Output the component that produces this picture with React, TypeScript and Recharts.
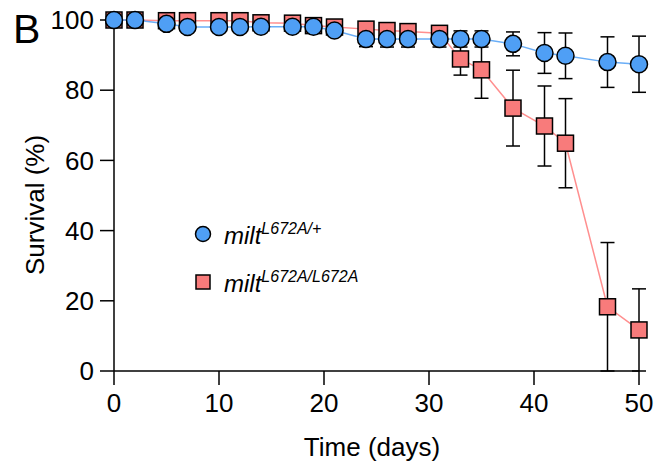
import React from "react"
import {
  ComposedChart,
  Line,
  XAxis,
  YAxis,
  ErrorBar,
  Legend,
  Customized,
} from "recharts"

// ── Data ───────────────────────────────────────────────────
const days = [0, 2, 5, 7, 10, 12, 14, 17, 19, 21, 24, 26, 28, 31, 33, 35, 38, 41, 43, 47, 50]

const hetSurvival = [100, 100, 98.9, 98, 98, 98, 98.1, 98.1, 98.1, 97, 94.6, 94.6, 94.6, 94.6, 94.6, 94.6, 93.2, 90.6, 89.8, 88, 87.4]
const hetError = [0, 0, 0.5, 0.6, 0.6, 0.6, 0.6, 0.6, 0.6, 1, 2.2, 2.3, 2.3, 2.3, 2.3, 2.3, 3.4, 5.8, 6.5, 7.2, 8]

const homSurvival = [100, 100, 99.8, 99.8, 99.8, 99.8, 99.2, 99.1, 98.4, 98, 97.4, 97, 96.7, 96.2, 88.9, 85.8, 74.9, 69.8, 64.9, 18.3, 11.7]
const homError = [0, 0, 0, 0, 0, 0, 0.4, 0.4, 0.6, 0.8, 1.4, 1.5, 1.5, 1.8, 4.6, 8.1, 10.8, 11.4, 12.7, 18.3, 11.7]

const xTicks = [0, 10, 20, 30, 40, 50]
const yTicks = [0, 20, 40, 60, 80, 100]

const tableData = days.map((day, i) => ({
  day,
  het: hetSurvival[i],
  hetErr: hetError[i],
  hom: homSurvival[i],
  homErr: homError[i],
}))

const BLUE_FILL = "#4f9ff5"
const BLUE_LINE = "#6aaef7"
const RED_FILL = "#f87b7b"
const RED_LINE = "#ff8f8f"
const FONT = "'Liberation Sans', Arial, sans-serif"

function CircleDot(props: any) {
  const { cx, cy } = props
  if (cx == null || cy == null) return null
  return <circle cx={cx} cy={cy} r={8.5} fill={BLUE_FILL} stroke="#000" strokeWidth={1.5} />
}

function SquareDot(props: any) {
  const { cx, cy } = props
  if (cx == null || cy == null) return null
  return (
    <rect x={cx - 8} y={cy - 8} width={16} height={16} fill={RED_FILL} stroke="#000" strokeWidth={1.5} />
  )
}

function LegendBox() {
  return (
    <svg width={200} height={90} style={{ overflow: "visible" }}>
      <circle cx={13} cy={19} r={7.5} fill={BLUE_FILL} stroke="#000" strokeWidth={1.5} />
      <text x={34} y={29} fontFamily={FONT} fontSize={24} fontStyle="italic" fill="#000">
        milt
        <tspan dy={-10} fontSize={16}>L672A/+</tspan>
      </text>
      <rect x={6} y={60} width={14} height={14} fill={RED_FILL} stroke="#000" strokeWidth={1.5} />
      <text x={34} y={77} fontFamily={FONT} fontSize={24} fontStyle="italic" fill="#000">
        milt
        <tspan dy={-10} fontSize={16}>L672A/L672A</tspan>
      </text>
    </svg>
  )
}

function Labels() {
  return (
    <g fontFamily={FONT} fill="#000">
      <text x={13} y={43} fontSize={41}>B</text>
      <text x={44} y={205} fontSize={26} textAnchor="middle" transform="rotate(-90 44 205)">
        Survival (%)
      </text>
      <text x={372} y={456} fontSize={26} textAnchor="middle">Time (days)</text>
    </g>
  )
}

export default function App() {
  const tick = { fontSize: 26, fill: "#000", fontFamily: FONT }
  return (
    <div style={{ position: "absolute", left: 0, top: 0, background: "#fff" }}>
      <ComposedChart
        width={662}
        height={470}
        data={tableData}
        margin={{ top: 20, right: 23, bottom: 0, left: 0 }}
      >
        <XAxis
          dataKey="day"
          type="number"
          domain={[0, 50]}
          ticks={xTicks}
          height={99}
          tick={tick}
          tickSize={14}
          tickMargin={9}
          axisLine={{ stroke: "#000", strokeWidth: 1.5 }}
          tickLine={{ stroke: "#000", strokeWidth: 1.5 }}
        />
        <YAxis
          type="number"
          domain={[0, 100]}
          ticks={yTicks}
          width={114}
          tick={tick}
          tickSize={14}
          tickMargin={6}
          axisLine={{ stroke: "#000", strokeWidth: 1.5 }}
          tickLine={{ stroke: "#000", strokeWidth: 1.5 }}
        />
        <Line
          dataKey="hom"
          type="linear"
          stroke={RED_LINE}
          strokeWidth={1.5}
          dot={<SquareDot />}
          activeDot={false}
          isAnimationActive={false}
        >
          <ErrorBar dataKey="homErr" direction="y" width={7} stroke="#000" strokeWidth={1.5} isAnimationActive={false} />
        </Line>
        <Line
          dataKey="het"
          type="linear"
          stroke={BLUE_LINE}
          strokeWidth={1.5}
          dot={<CircleDot />}
          activeDot={false}
          isAnimationActive={false}
        >
          <ErrorBar dataKey="hetErr" direction="y" width={7} stroke="#000" strokeWidth={1.5} isAnimationActive={false} />
        </Line>
        <Legend
          layout="vertical"
          align="center"
          verticalAlign="middle"
          wrapperStyle={{ left: 190, top: 215, width: 200, height: 90 }}
          content={() => <LegendBox />}
        />
        <Customized component={Labels} />
      </ComposedChart>
    </div>
  )
}
